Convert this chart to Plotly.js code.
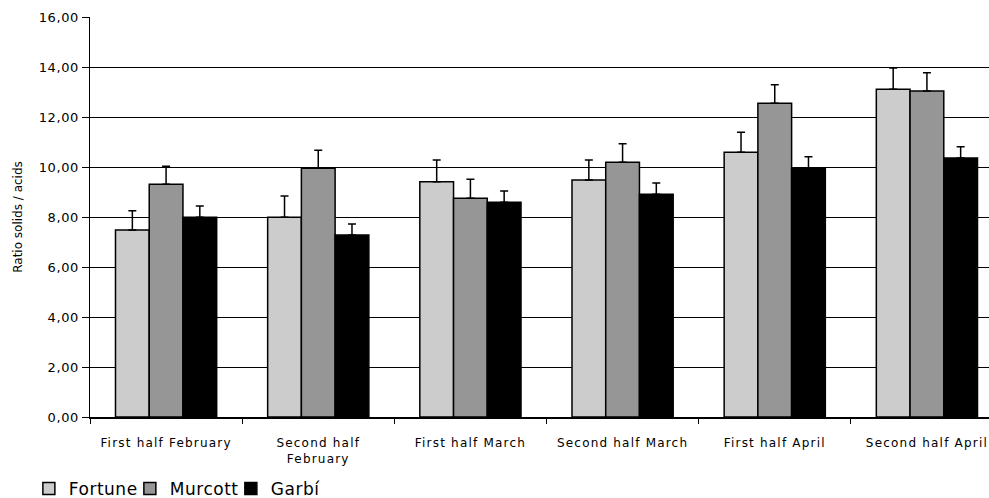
<!DOCTYPE html>
<html>
<head>
<meta charset="utf-8">
<script src="https://cdn.plot.ly/plotly-3.0.1.min.js"></script>
<style>
html,body{margin:0;padding:0;background:#fff;}
#chart{width:989px;height:498px;}
#chart .xtick text{letter-spacing:1.2px;}
#chart .ytick text{letter-spacing:0.6px;}
#chart .legendtext{letter-spacing:0.5px;}
</style>
</head>
<body>
<div id="chart"></div>
<script>
const categories = ["First half February", "Second half<br>February", "First half March", "Second half March", "First half April", "Second half April"];
const fortune = [7.48, 7.99, 9.41, 9.48, 10.59, 13.11];
const fortuneErr = [0.77, 0.85, 0.87, 0.80, 0.80, 0.85];
const murcott = [9.31, 9.95, 8.75, 10.19, 12.55, 13.04];
const murcottErr = [0.72, 0.72, 0.76, 0.74, 0.74, 0.73];
const garbi = [7.99, 7.28, 8.59, 8.91, 9.95, 10.36];
const garbiErr = [0.45, 0.44, 0.45, 0.45, 0.46, 0.45];
const yTicks = [0, 2, 4, 6, 8, 10, 12, 14, 16];

function mk(name, vals, errs, color) {
  return {
    type: 'bar', name: name, x: categories, y: vals,
    marker: {color: color, line: {color: '#000', width: 1.5}},
    error_y: {type: 'data', symmetric: false, array: errs, arrayminus: errs.map(() => 0),
              color: '#000', thickness: 1.5, width: 4}
  };
}
const data = [
  mk('Fortune', fortune, fortuneErr, '#cccccc'),
  mk('Murcott', murcott, murcottErr, '#969696'),
  mk('Garbí', garbi, garbiErr, '#000000')
];
const layout = {
  width: 989, height: 498,
  margin: {l: 90, r: 0, t: 17, b: 81, autoexpand: false},
  paper_bgcolor: '#fff', plot_bgcolor: '#fff',
  separators: ',.',
  barmode: 'group', bargap: 0.335, bargroupgap: 0,
  font: {family: 'DejaVu Sans, sans-serif', color: '#000'},
  xaxis: {
    type: 'category', range: [-0.5, 5.408], automargin: false,
    showline: true, linecolor: '#000', linewidth: 1.5,
    ticks: 'outside', tickson: 'boundaries', ticklen: 5, tickcolor: '#000', tickwidth: 1,
    ticklabelstandoff: 14,
    tickfont: {size: 12, family: 'DejaVu Sans, sans-serif', color: '#000'},
    showgrid: false, fixedrange: true
  },
  yaxis: {
    range: [0, 16], tickvals: yTicks, tickformat: '.2f', automargin: false,
    showline: true, linecolor: '#000', linewidth: 1.5,
    ticks: 'outside', ticklen: 7, tickcolor: '#000', tickwidth: 1,
    showgrid: true, gridcolor: '#000', gridwidth: 1,
    zeroline: false,
    tickfont: {size: 13, family: 'DejaVu Sans, sans-serif', color: '#000'},
    title: {text: 'Ratio solids / acids', font: {size: 12, family: 'DejaVu Sans, sans-serif', color: '#000'}, standoff: 16}
  },
  showlegend: true,
  legend: {orientation: 'h', x: -0.068, xanchor: 'left', y: -0.18, yanchor: 'middle',
           entrywidth: 56, entrywidthmode: 'pixels',
           font: {size: 17, family: 'DejaVu Sans, sans-serif', color: '#000'}, traceorder: 'normal',
           bgcolor: 'rgba(0,0,0,0)'}
};
Plotly.newPlot('chart', data, layout, {displayModeBar: false, staticPlot: true});
</script>
</body>
</html>
